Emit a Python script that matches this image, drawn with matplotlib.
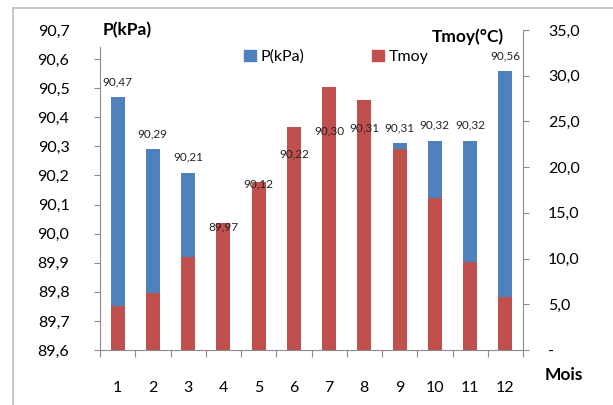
import matplotlib
matplotlib.use("Agg")
import matplotlib.pyplot as plt
from matplotlib.lines import Line2D
from matplotlib.patches import Patch

plt.rcParams['font.family'] = ['Lato', 'DejaVu Sans']

# data
mois = [1, 2, 3, 4, 5, 6, 7, 8, 9, 10, 11, 12]
pression = [90.47, 90.29, 90.21, 89.97, 90.12, 90.22, 90.30, 90.31, 90.31, 90.32, 90.32, 90.56]
tmoy = [4.8, 6.2, 10.2, 13.9, 18.4, 24.4, 28.8, 27.3, 22.0, 16.6, 9.6, 5.8]
p_ticks = [89.6, 89.7, 89.8, 89.9, 90.0, 90.1, 90.2, 90.3, 90.4, 90.5, 90.6]
t_ticks = [0, 5, 10, 15, 20, 25, 30, 35]

blue = '#4F81BD'
red = '#C0504D'
gray = '#8C8C8C'


def virgule(v, nd):
    return f"{v:.{nd}f}".replace('.', ',')


fig = plt.figure(figsize=(6.13, 4.05), dpi=100)
ax = fig.add_axes([100 / 613, 55 / 405, 423 / 613, 320 / 405])
ax2 = ax.twinx()

# P bars on the left axis (behind), Tmoy bars on the right axis (in front)
ax.bar(mois, [p - 89.6 for p in pression], bottom=89.6, width=0.4, color=blue, zorder=2)
ax2.bar(mois, tmoy, width=0.4, color=red, zorder=2)

ax.set_xlim(0.5, 12.5)
ax.set_ylim(89.6, 90.7)
ax2.set_ylim(0, 35)

# left axis
ax.set_yticks(p_ticks)
ax.set_yticklabels([virgule(v, 1) for v in p_ticks])
ax.set_yticks([90.7], minor=True)
ax.set_yticklabels(['90,7'], minor=True)
ax.tick_params(axis='y', which='major', direction='out', length=4, color=gray,
               labelsize=11.5, pad=18)
ax.tick_params(axis='y', which='minor', length=0, labelsize=11.5, pad=22)

# x axis: ticks between categories, labels on the centers
ax.set_xticks([m + 0.5 for m in [0] + mois])
ax.set_xticklabels([])
ax.set_xticks(mois, minor=True)
ax.set_xticklabels([str(m) for m in mois], minor=True)
ax.tick_params(axis='x', which='major', direction='out', length=5, color=gray)
ax.tick_params(axis='x', which='minor', length=0, labelsize=11.5, pad=22)

# right axis
ax2.set_yticks(t_ticks)
ax2.set_yticklabels(['-'] + [virgule(v, 1) for v in t_ticks[1:]])
ax2.tick_params(axis='y', direction='out', length=4, color=gray, labelsize=11.5, pad=14)

for a in (ax, ax2):
    a.spines['top'].set_visible(False)
    for s in ('left', 'right', 'bottom'):
        a.spines[s].set_color(gray)
ax2.spines['left'].set_visible(False)
ax2.spines['bottom'].set_visible(False)
ax.spines['right'].set_visible(False)
ax.spines['left'].set_bounds(89.6, 90.64)

# value labels of the pressure
for m, p in zip(mois, pression):
    ax2.annotate(virgule(p, 2), xy=(m, p), xycoords=ax.transData,
                 xytext=(0, 7), textcoords='offset points',
                 ha='center', va='bottom', fontsize=8.5, color='#222222', zorder=5)

# axis titles
fig.text(103 / 613, 1 - 30 / 405, 'P(kPa)', fontsize=12.5, fontweight='bold',
         ha='left', va='center')
fig.text(468 / 613, 1 - 37 / 405, 'Tmoy(°C)', fontsize=12.5, fontweight='bold',
         ha='center', va='center')
fig.text(564 / 613, 1 - 375 / 405, 'Mois', fontsize=12.5, fontweight='bold',
         ha='center', va='center')

handles = [Patch(color=blue, label='P(kPa)'), Patch(color=red, label='Tmoy')]
fig.legend(handles=handles, loc='center', bbox_to_anchor=(336 / 613, 1 - 57 / 405),
           ncol=2, frameon=False, fontsize=11.5, handlelength=0.75, handleheight=0.75,
           handletextpad=0.3, columnspacing=4.2)

# outer frame (only top and left edges visible)
fig.add_artist(Line2D([13 / 613, 1], [1 - 8 / 405, 1 - 8 / 405], color='#BFBFBF', lw=1.2))
fig.add_artist(Line2D([13 / 613, 13 / 613], [0, 1 - 8 / 405], color='#BFBFBF', lw=1.2))

fig.savefig('out.png', dpi=100)
